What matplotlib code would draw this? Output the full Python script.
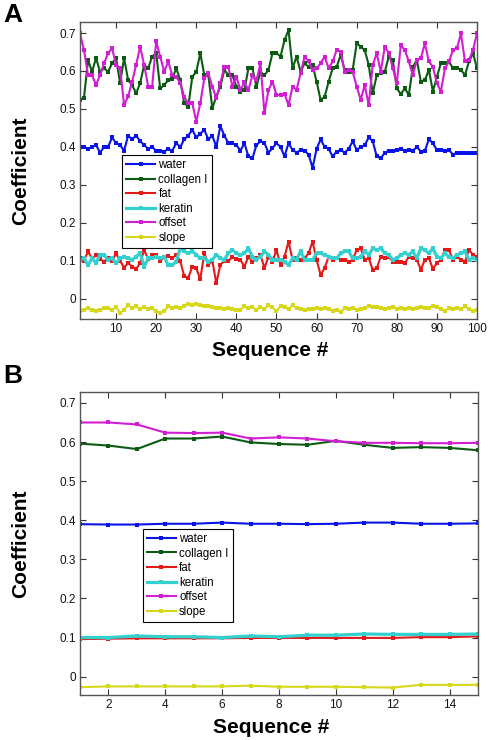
import matplotlib
matplotlib.use("Agg")
import matplotlib.pyplot as plt
from matplotlib.ticker import FuncFormatter

plt.rcParams['font.family'] = ['Liberation Sans', 'DejaVu Sans']

# ---------------- Panel A data (sequence 1..100) ----------------
seq_a = list(range(1, 101))
water_a = [0.400, 0.400, 0.395, 0.400, 0.405, 0.385, 0.400, 0.400, 0.425, 0.410,
           0.405, 0.390, 0.430, 0.420, 0.430, 0.415, 0.405, 0.395, 0.400, 0.390,
           0.390, 0.388, 0.395, 0.390, 0.410, 0.400, 0.420, 0.430, 0.445, 0.425,
           0.435, 0.445, 0.420, 0.430, 0.400, 0.455, 0.430, 0.410, 0.410, 0.405,
           0.390, 0.410, 0.375, 0.370, 0.405, 0.415, 0.410, 0.385, 0.397, 0.410,
           0.400, 0.375, 0.410, 0.392, 0.385, 0.392, 0.390, 0.380, 0.345, 0.395,
           0.420, 0.400, 0.395, 0.375, 0.388, 0.392, 0.385, 0.395, 0.415, 0.392,
           0.400, 0.405, 0.425, 0.415, 0.375, 0.370, 0.385, 0.390, 0.390, 0.392,
           0.395, 0.390, 0.393, 0.390, 0.400, 0.388, 0.390, 0.420, 0.410, 0.392,
           0.392, 0.390, 0.392, 0.380, 0.385, 0.383, 0.385, 0.383, 0.383, 0.383]
collagen_a = [0.524, 0.530, 0.629, 0.598, 0.634, 0.598, 0.607, 0.598, 0.620, 0.634,
              0.568, 0.634, 0.576, 0.563, 0.541, 0.568, 0.616, 0.607, 0.638, 0.647,
              0.554, 0.563, 0.576, 0.580, 0.607, 0.576, 0.515, 0.506, 0.585, 0.598,
              0.647, 0.589, 0.589, 0.502, 0.533, 0.559, 0.603, 0.589, 0.589, 0.559,
              0.546, 0.550, 0.607, 0.607, 0.559, 0.598, 0.589, 0.603, 0.647, 0.647,
              0.638, 0.681, 0.708, 0.607, 0.638, 0.598, 0.620, 0.611, 0.616, 0.572,
              0.524, 0.532, 0.572, 0.607, 0.611, 0.642, 0.603, 0.598, 0.603, 0.673,
              0.664, 0.655, 0.616, 0.541, 0.589, 0.594, 0.598, 0.638, 0.629, 0.554,
              0.539, 0.554, 0.537, 0.611, 0.629, 0.572, 0.576, 0.603, 0.546, 0.585,
              0.620, 0.620, 0.625, 0.607, 0.607, 0.603, 0.589, 0.625, 0.647, 0.607]
fat_a = [0.107, 0.100, 0.125, 0.105, 0.115, 0.105, 0.098, 0.108, 0.100, 0.120,
         0.100, 0.082, 0.095, 0.085, 0.078, 0.095, 0.128, 0.105, 0.115, 0.115,
         0.100, 0.110, 0.112, 0.108, 0.115, 0.100, 0.059, 0.055, 0.085, 0.080,
         0.052, 0.120, 0.090, 0.100, 0.041, 0.090, 0.100, 0.100, 0.110, 0.105,
         0.103, 0.085, 0.111, 0.098, 0.107, 0.116, 0.081, 0.111, 0.098, 0.129,
         0.089, 0.111, 0.151, 0.103, 0.107, 0.103, 0.107, 0.120, 0.151, 0.103,
         0.063, 0.081, 0.111, 0.103, 0.107, 0.103, 0.103, 0.098, 0.103, 0.129,
         0.133, 0.103, 0.107, 0.077, 0.081, 0.111, 0.107, 0.111, 0.098, 0.098,
         0.098, 0.094, 0.111, 0.107, 0.103, 0.077, 0.103, 0.107, 0.079, 0.094,
         0.103, 0.129, 0.129, 0.103, 0.111, 0.103, 0.098, 0.129, 0.116, 0.111]
keratin_a = [0.103, 0.107, 0.089, 0.107, 0.094, 0.116, 0.116, 0.103, 0.107, 0.094,
             0.107, 0.111, 0.107, 0.103, 0.111, 0.120, 0.085, 0.107, 0.107, 0.111,
             0.107, 0.111, 0.089, 0.089, 0.098, 0.133, 0.125, 0.120, 0.125, 0.116,
             0.107, 0.107, 0.098, 0.103, 0.116, 0.107, 0.103, 0.120, 0.129, 0.120,
             0.116, 0.120, 0.133, 0.111, 0.103, 0.111, 0.125, 0.116, 0.103, 0.103,
             0.103, 0.098, 0.089, 0.107, 0.103, 0.125, 0.103, 0.103, 0.103, 0.120,
             0.120, 0.116, 0.111, 0.107, 0.107, 0.120, 0.125, 0.125, 0.107, 0.107,
             0.111, 0.125, 0.116, 0.133, 0.129, 0.133, 0.120, 0.116, 0.103, 0.107,
             0.116, 0.120, 0.116, 0.125, 0.107, 0.133, 0.129, 0.120, 0.133, 0.111,
             0.107, 0.120, 0.111, 0.107, 0.116, 0.120, 0.125, 0.103, 0.107, 0.103]
offset_a = [0.699, 0.655, 0.589, 0.589, 0.563, 0.589, 0.620, 0.647, 0.660, 0.616,
            0.607, 0.510, 0.533, 0.572, 0.616, 0.664, 0.616, 0.559, 0.559, 0.678,
            0.638, 0.598, 0.625, 0.589, 0.585, 0.568, 0.532, 0.515, 0.515, 0.467,
            0.515, 0.581, 0.594, 0.559, 0.528, 0.568, 0.611, 0.611, 0.559, 0.585,
            0.550, 0.570, 0.550, 0.589, 0.575, 0.620, 0.489, 0.550, 0.572, 0.537,
            0.537, 0.540, 0.510, 0.559, 0.550, 0.594, 0.638, 0.625, 0.603, 0.607,
            0.620, 0.638, 0.607, 0.625, 0.655, 0.651, 0.598, 0.603, 0.598, 0.559,
            0.524, 0.563, 0.510, 0.616, 0.647, 0.598, 0.664, 0.647, 0.607, 0.568,
            0.668, 0.655, 0.625, 0.589, 0.629, 0.633, 0.673, 0.625, 0.611, 0.568,
            0.546, 0.607, 0.625, 0.655, 0.660, 0.699, 0.625, 0.629, 0.655, 0.699]
slope_a = [-0.033, -0.029, -0.025, -0.029, -0.033, -0.029, -0.025, -0.025, -0.029, -0.022,
           -0.037, -0.029, -0.016, -0.025, -0.020, -0.027, -0.022, -0.027, -0.025, -0.033,
           -0.037, -0.033, -0.020, -0.025, -0.022, -0.025, -0.019, -0.014, -0.016, -0.014,
           -0.016, -0.020, -0.020, -0.022, -0.025, -0.025, -0.027, -0.025, -0.027, -0.029,
           -0.029, -0.020, -0.025, -0.022, -0.029, -0.022, -0.027, -0.016, -0.022, -0.033,
           -0.019, -0.022, -0.027, -0.016, -0.025, -0.027, -0.029, -0.027, -0.027, -0.025,
           -0.027, -0.025, -0.027, -0.031, -0.029, -0.035, -0.025, -0.027, -0.025, -0.029,
           -0.027, -0.025, -0.020, -0.022, -0.022, -0.025, -0.027, -0.025, -0.022, -0.027,
           -0.025, -0.027, -0.025, -0.027, -0.025, -0.022, -0.025, -0.025, -0.020, -0.022,
           -0.027, -0.031, -0.025, -0.027, -0.025, -0.027, -0.020, -0.027, -0.031, -0.029]

# ---------------- Panel B data (sequence 1..15) ----------------
seq_b = list(range(1, 16))
water_b = [0.390, 0.389, 0.389, 0.391, 0.391, 0.394, 0.391, 0.391, 0.390, 0.391,
           0.394, 0.394, 0.391, 0.391, 0.392]
collagen_b = [0.596, 0.591, 0.582, 0.609, 0.609, 0.614, 0.599, 0.595, 0.593, 0.603,
              0.593, 0.585, 0.587, 0.585, 0.579]
fat_b = [0.096, 0.097, 0.098, 0.098, 0.098, 0.098, 0.099, 0.099, 0.099, 0.099,
         0.099, 0.099, 0.101, 0.101, 0.103]
keratin_b = [0.100, 0.100, 0.104, 0.102, 0.102, 0.100, 0.104, 0.102, 0.106, 0.106,
             0.109, 0.108, 0.108, 0.108, 0.109]
offset_b = [0.650, 0.650, 0.645, 0.624, 0.623, 0.624, 0.609, 0.612, 0.609, 0.602,
            0.598, 0.598, 0.597, 0.597, 0.598]
slope_b = [-0.027, -0.025, -0.025, -0.025, -0.025, -0.025, -0.023, -0.026, -0.026, -0.026,
           -0.027, -0.028, -0.021, -0.021, -0.021]

labels = ['water', 'collagen I', 'fat', 'keratin', 'offset', 'slope']
colors = ['#0a14e6', '#0b5c12', '#e41a1a', '#33d0d0', '#d21ed2', '#d8d81a']
widths = [1.5, 1.5, 1.5, 2.3, 1.5, 1.5]

fig = plt.figure(figsize=(4.88, 7.4), dpi=100)
W, H = 488, 740

def px_axes(x0, y0, x1, y1):
    return fig.add_axes([x0 / W, 1 - y1 / H, (x1 - x0) / W, (y1 - y0) / H])

axA = px_axes(80, 22, 477, 319)
axB = px_axes(80, 392, 478, 695)

fmt = FuncFormatter(lambda v, p: '0' if abs(v) < 1e-9 else f'{v:.1f}')

def style(ax, x, series, xlim, ylim, xticks, leg_xy):
    for s, lab, c, w in zip(series, labels, colors, widths):
        ax.plot(x, s, color=c, lw=w, marker='s', ms=2.6, mew=0, label=lab)
    ax.set_xlim(*xlim)
    ax.set_ylim(*ylim)
    ax.set_xticks(xticks)
    ax.set_yticks([0, 0.1, 0.2, 0.3, 0.4, 0.5, 0.6, 0.7])
    ax.yaxis.set_major_formatter(fmt)
    ax.tick_params(direction='in', length=4, width=0.8, top=True, right=True,
                   labelsize=8.5, colors='#333333', labelcolor='#111111', pad=3)
    for sp in ax.spines.values():
        sp.set_color('#555555')
        sp.set_linewidth(1.0)
    ax.set_xlabel('Sequence #', fontsize=15, fontweight='bold')
    ax.xaxis.label.set_va('center')
    ax.xaxis.set_label_coords(0.48, -0.106)
    ax.set_ylabel('Coefficient', fontsize=15, fontweight='bold')
    ax.yaxis.label.set_va('center')
    ax.yaxis.set_label_coords(-0.149, 0.5)
    leg = ax.legend(loc='upper left', bbox_to_anchor=leg_xy, borderaxespad=0,
                    fontsize=8.3, frameon=True, fancybox=False, framealpha=1,
                    edgecolor='black', handlelength=2.5, handletextpad=0.3,
                    labelspacing=0.22, borderpad=0.35, markerscale=1.3)
    leg.get_frame().set_linewidth(0.8)

style(axA, seq_a, [water_a, collagen_a, fat_a, keratin_a, offset_a, slope_a],
      (1, 100), (-0.053, 0.729), list(range(10, 101, 10)), (0.106, 0.552))
style(axB, seq_b, [water_b, collagen_b, fat_b, keratin_b, offset_b, slope_b],
      (1, 15), (-0.047, 0.728), list(range(2, 15, 2)), (0.158, 0.548))

fig.text(3 / W, 1 - 3 / H, 'A', fontsize=19, fontweight='bold', ha='left', va='top')
fig.text(3 / W, 1 - 364 / H, 'B', fontsize=19, fontweight='bold', ha='left', va='top')

fig.savefig('out.png', dpi=100)
